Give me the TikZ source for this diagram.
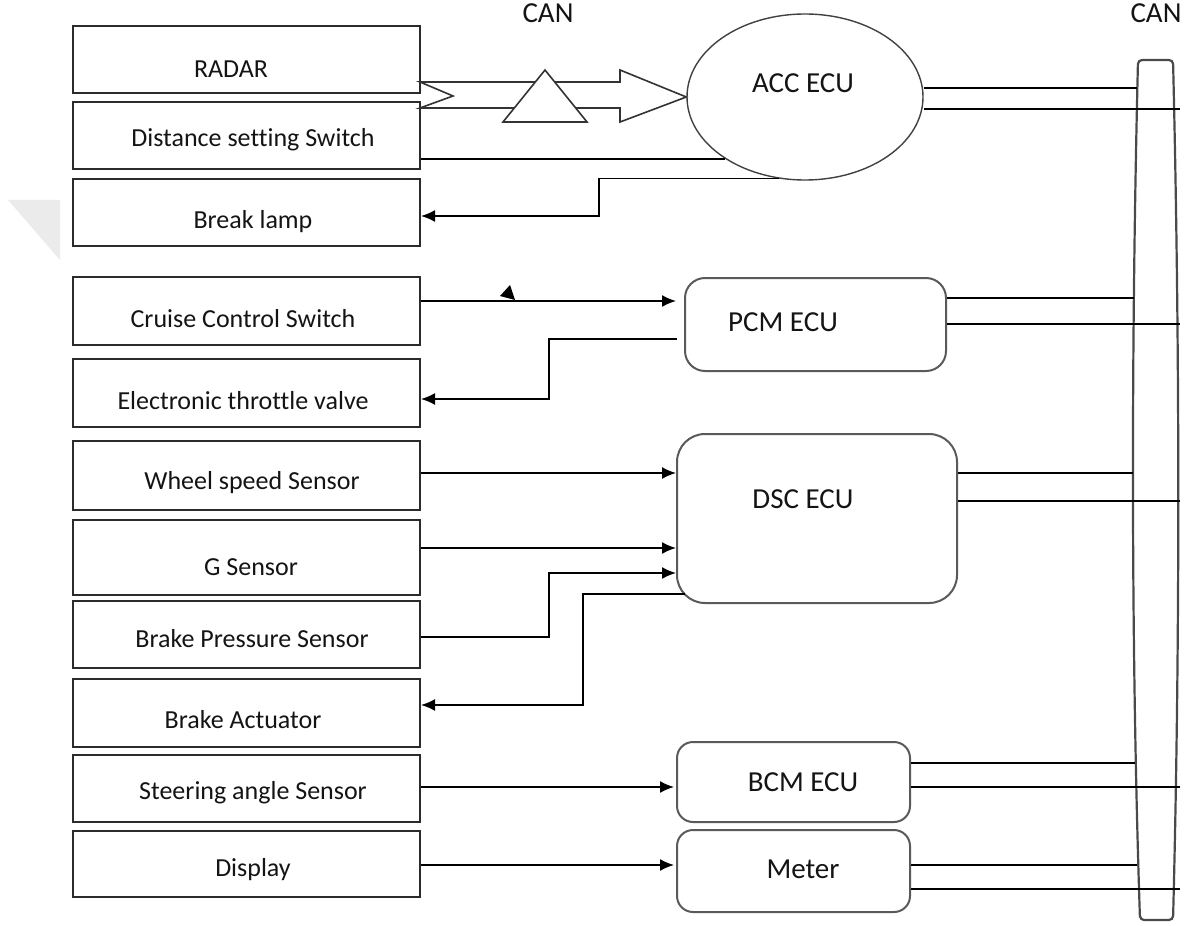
\documentclass[tikz,border=0pt]{standalone}
\usepackage{fontspec}
\setmainfont{Carlito}[Ligatures=NoCommon]
\usetikzlibrary{shapes.geometric,arrows.meta,fit}
\definecolor{inkline}{HTML}{2B2B2B}
\definecolor{eculine}{HTML}{5A5A5A}
\definecolor{busline}{HTML}{4A4A4A}
\definecolor{txt}{HTML}{141414}
\definecolor{markgray}{HTML}{EBEBEB}
\begin{document}
\begin{tikzpicture}[x=0.5pt,y=-0.5pt,
  lbox/.style={draw=inkline, line width=1pt, inner sep=0pt},
  ecubox/.style={draw=eculine, line width=1pt, inner sep=0pt, rounded corners=#1},
  ltext/.style={anchor=base, font=\fontsize{13}{15}\selectfont, text=txt, inner sep=0pt},
  etext/.style={anchor=base, font=\fontsize{14.5}{17}\selectfont, text=txt, inner sep=0pt},
  wire/.style={draw=black, line width=0.8pt},
  arr/.style={wire, -{Latex[length=7pt,width=6pt]}},
]
\useasboundingbox (0,0) rectangle (1197,925);

% faint corner mark at the left margin
\fill[markgray] (8,200) -- (60,200) -- (60,260) -- cycle;

% ---- sensor / actuator boxes on the left ----
\node[lbox, fit={(73,26)(420,93)}]   (radar)    {};
\node[lbox, fit={(73,102)(420,169)}] (dist)     {};
\node[lbox, fit={(73,179)(420,246)}] (lamp)     {};
\node[lbox, fit={(73,277)(420,345)}] (cruise)   {};
\node[lbox, fit={(73,359)(420,427)}] (throttle) {};
\node[lbox, fit={(73,441)(420,510)}] (wheel)    {};
\node[lbox, fit={(73,520)(420,595)}] (gsens)    {};
\node[lbox, fit={(73,601)(420,668)}] (bpress)   {};
\node[lbox, fit={(73,679)(420,747)}] (actuator) {};
\node[lbox, fit={(73,755)(420,822)}] (steer)    {};
\node[lbox, fit={(73,831)(420,897)}] (display)  {};

\node[ltext] (radar-t)    at (231,78)  {RADAR};
\node[ltext] (dist-t)     at (253,147) {Distance setting Switch};
\node[ltext] (lamp-t)     at (253,228) {Break lamp};
\node[ltext] (cruise-t)   at (243,327) {Cruise Control Switch};
\node[ltext] (throttle-t) at (243,409) {Electronic throttle valve};
\node[ltext] (wheel-t)    at (252,489) {Wheel speed Sensor};
\node[ltext] (gsens-t)    at (251,575) {G Sensor};
\node[ltext] (bpress-t)   at (252,647) {Brake Pressure Sensor};
\node[ltext] (actuator-t) at (243,728) {Brake Actuator};
\node[ltext] (steer-t)    at (253,799) {Steering angle Sensor};
\node[ltext] (display-t)  at (253,876) {Display};

% ---- control units ----
\node[ellipse, draw=black!75, line width=0.7pt, minimum width=118pt,
      minimum height=83pt, inner sep=0pt] (acc) at (805,97) {};
\node[ecubox=10pt, fit={(685,278)(946,371)}] (pcm)   {};
\node[ecubox=14pt, fit={(677,434)(957,603)}] (dsc)   {};
\node[ecubox=8pt,  fit={(677,742)(910,822)}] (bcm)   {};
\node[ecubox=8pt,  fit={(677,830)(910,912)}] (meter) {};

\node[etext] (acc-t)   at (803,93)  {ACC ECU};
\node[etext] (pcm-t)   at (783,331) {PCM ECU};
\node[etext] (dsc-t)   at (803,508) {DSC ECU};
\node[etext] (bcm-t)   at (803,791) {BCM ECU};
\node[etext] (meter-t) at (803,878) {Meter};

\node[etext] (can1) at (548,23)  {CAN};
\node[etext] (can2) at (1156,23) {CAN};

% ---- CAN bus bar ----
\draw[busline, line width=1.1pt, rounded corners=2pt]
  (1140,920) -- (1173,920) .. controls (1180,650) and (1180,350) .. (1173,60)
  -- (1138,60) .. controls (1131,350) and (1131,650) .. (1140,920) -- cycle;

\coordinate (bus-acc-a)   at (1137,88);
\coordinate (bus-acc-b)   at (1180,109);
\coordinate (bus-pcm-a)   at (1134,298);
\coordinate (bus-pcm-b)   at (1180,324);
\coordinate (bus-dsc-a)   at (1133,473);
\coordinate (bus-dsc-b)   at (1180,501);
\coordinate (bus-bcm-a)   at (1135,763);
\coordinate (bus-bcm-b)   at (1180,787);
\coordinate (bus-meter-a) at (1137,865);
\coordinate (bus-meter-b) at (1180,889);

\draw[wire] (acc.east |- bus-acc-a) -- (bus-acc-a);
\draw[wire] (acc.east |- bus-acc-b) -- (bus-acc-b);
\draw[wire] (pcm.east |- bus-pcm-a) -- (bus-pcm-a);
\draw[wire] (pcm.east |- bus-pcm-b) -- (bus-pcm-b);
\draw[wire] (dsc.east |- bus-dsc-a) -- (bus-dsc-a);
\draw[wire] (dsc.east |- bus-dsc-b) -- (bus-dsc-b);
\draw[wire] (bcm.east |- bus-bcm-a) -- (bus-bcm-a);
\draw[wire] (bcm.east |- bus-bcm-b) -- (bus-bcm-b);
\draw[wire] (meter.east |- bus-meter-a) -- (bus-meter-a);
\draw[wire] (meter.east |- bus-meter-b) -- (bus-meter-b);

% ---- block arrow RADAR -> ACC ECU with CAN marker ----
\draw[black!80, line width=0.8pt, fill=white]
  (420,82) -- (620,82) -- (620,70) -- (acc.west) -- (620,122) -- (620,108)
  -- (420,108) -- (453,96) -- cycle;
\draw[black!80, line width=0.8pt, fill=white]
  (545,70) -- (587,122) -- (503,122) -- cycle;

% ---- signal lines ----
\draw[wire] (dist.east |- acc.218.5) -- (acc.218.5);
\draw[arr] (acc.252) -| (599,216) -- (lamp.east |- 0,216);

\draw[arr, shorten >=4pt] (cruise.east |- 0,301) -- (pcm.west |- 0,301);
\fill[black] (510,285) -- (500,296) -- (515,300) -- cycle;
\draw[arr, shorten <=3.5pt] (pcm.west |- 0,339) -| (549,399) -- (throttle.east |- 0,399);

\draw[arr] (wheel.east |- 0,473) -- (dsc.west |- 0,473);
\draw[arr] (gsens.east |- 0,548) -- (dsc.west |- 0,548);
\draw[arr] (bpress.east |- 0,637) -| (549,573) -- (dsc.west |- 0,573);
\coordinate (dsc-out) at (685,594);
\draw[arr] (dsc-out) -| (583,705) -- (actuator.east |- 0,705);

\draw[arr, shorten >=1pt] (steer.east |- 0,787) -- (bcm.west |- 0,787);
\draw[arr, shorten >=1pt] (display.east |- 0,865) -- (meter.west |- 0,865);
\end{tikzpicture}
\end{document}
